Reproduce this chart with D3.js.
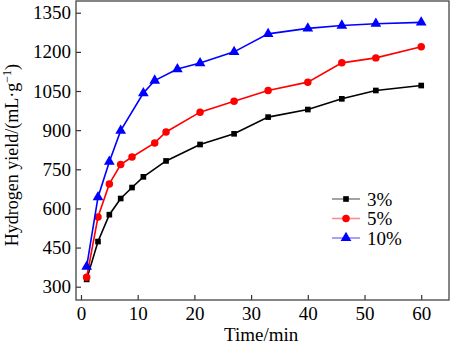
<!DOCTYPE html>
<html>
<head>
<meta charset="utf-8">
<script src="https://cdn.jsdelivr.net/npm/d3@7"></script>
<style>
  html, body { margin: 0; padding: 0; background: #fff; }
  svg { display: block; font-family: "Liberation Serif", "Times New Roman", serif; }
</style>
</head>
<body>
<svg id="chart" width="450" height="345"></svg>
<script>
// sampling times (min) for each loading
var time3  = [1, 3, 5, 7, 9, 11, 15, 21, 27, 33, 40, 46, 52, 60];
var time5  = [1, 3, 5, 7, 9, 13, 15, 21, 27, 33, 40, 46, 52, 60];
var time10 = [1, 3, 5, 7, 11, 13, 17, 21, 27, 33, 40, 46, 52, 60];

// hydrogen yield, mL/g
var yield3  = [328, 473, 576, 638, 680, 721, 782, 845, 886, 950, 979, 1020, 1052, 1071];
var yield5  = [336, 567, 694, 768, 797, 851, 893, 969, 1011, 1052, 1084, 1158, 1177, 1220];
var yield10 = [377, 643, 779, 898, 1042, 1090, 1134, 1157, 1200, 1269, 1290, 1301, 1308, 1313];

var seriesNames = ["3%", "5%", "10%"];
var xTicks = [0, 10, 20, 30, 40, 50, 60];
var yTicks = [300, 450, 600, 750, 900, 1050, 1200, 1350];

(function () {
  var colors = ["#000000", "#ff0000", "#0000ff"];
  var symbols = [d3.symbolSquare, d3.symbolCircle, d3.symbolTriangle];
  var symSize = [32, 44, 50];

  var series = [
    {name: seriesNames[0], t: time3,  v: yield3},
    {name: seriesNames[1], t: time5,  v: yield5},
    {name: seriesNames[2], t: time10, v: yield10}
  ];

  var svg = d3.select("#chart");
  var pl = 76, pr = 449, pt = 1, pb = 300;

  var x = d3.scaleLinear().domain([-0.88, 64.9]).range([pl, pr]);
  var y = d3.scaleLinear().domain([249, 1395]).range([pb, pt]);

  // axes, ticks pointing into the plot
  var xAxis = svg.append("g")
      .attr("transform", "translate(0," + pb + ")")
      .call(d3.axisBottom(x).tickValues(xTicks).tickSizeInner(-5).tickSizeOuter(0).tickPadding(7));
  var yAxis = svg.append("g")
      .attr("transform", "translate(" + pl + ",0)")
      .call(d3.axisLeft(y).tickValues(yTicks).tickFormat(d3.format("d"))
            .tickSizeInner(-5).tickSizeOuter(0).tickPadding(5));

  [xAxis, yAxis].forEach(function (g) {
    g.select(".domain").remove();
    g.selectAll(".tick line").attr("stroke", "#333").attr("stroke-width", 1.2);
    g.selectAll(".tick text")
      .attr("fill", "#000")
      .style("font-family", "'Liberation Serif', serif")
      .style("font-size", "19px");
  });

  // frame
  svg.append("rect")
      .attr("x", pl).attr("y", pt)
      .attr("width", pr - pl).attr("height", pb - pt)
      .attr("fill", "none").attr("stroke", "#444").attr("stroke-width", 1.3);

  var line = d3.line()
      .x(function (d) { return x(d[0]); })
      .y(function (d) { return y(d[1]); });

  series.forEach(function (s, i) {
    var pts = s.t.map(function (t, j) { return [t, s.v[j]]; });
    svg.append("path")
        .datum(pts)
        .attr("d", line)
        .attr("fill", "none")
        .attr("stroke", colors[i])
        .attr("stroke-width", 1.6);
    svg.append("g").selectAll("path")
        .data(pts)
        .enter().append("path")
        .attr("transform", function (d) { return "translate(" + x(d[0]) + "," + y(d[1]) + ")"; })
        .attr("d", d3.symbol().type(symbols[i]).size(symSize[i]))
        .attr("fill", colors[i]);
  });

  // legend
  var legend = svg.append("g");
  var rowY = [199, 218.5, 238];
  series.forEach(function (s, i) {
    var row = legend.append("g").attr("transform", "translate(0," + rowY[i] + ")");
    row.append("line")
        .attr("x1", 332).attr("x2", 360)
        .attr("stroke", colors[i]).attr("stroke-opacity", 0.45).attr("stroke-width", 1.6);
    row.append("path")
        .attr("transform", "translate(346,0)")
        .attr("d", d3.symbol().type(symbols[i]).size(symSize[i]))
        .attr("fill", colors[i]);
    row.append("text")
        .attr("x", 367).attr("y", 6.5)
        .style("font-size", "19px")
        .text(s.name);
  });

  // axis titles
  svg.append("text")
      .attr("x", (x(0) + x(60)) / 2 + 10).attr("y", 341)
      .attr("text-anchor", "middle")
      .style("font-size", "19px")
      .text("Time/min");

  var yTitle = svg.append("text")
      .attr("transform", "translate(18,155) rotate(-90)")
      .attr("text-anchor", "middle")
      .style("font-size", "18px");
  yTitle.append("tspan").text("Hydrogen yield/(mL·g");
  yTitle.append("tspan").attr("dy", -7).style("font-size", "12px").text("−1");
  yTitle.append("tspan").attr("dy", 7).text(")");
})();
</script>
</body>
</html>
